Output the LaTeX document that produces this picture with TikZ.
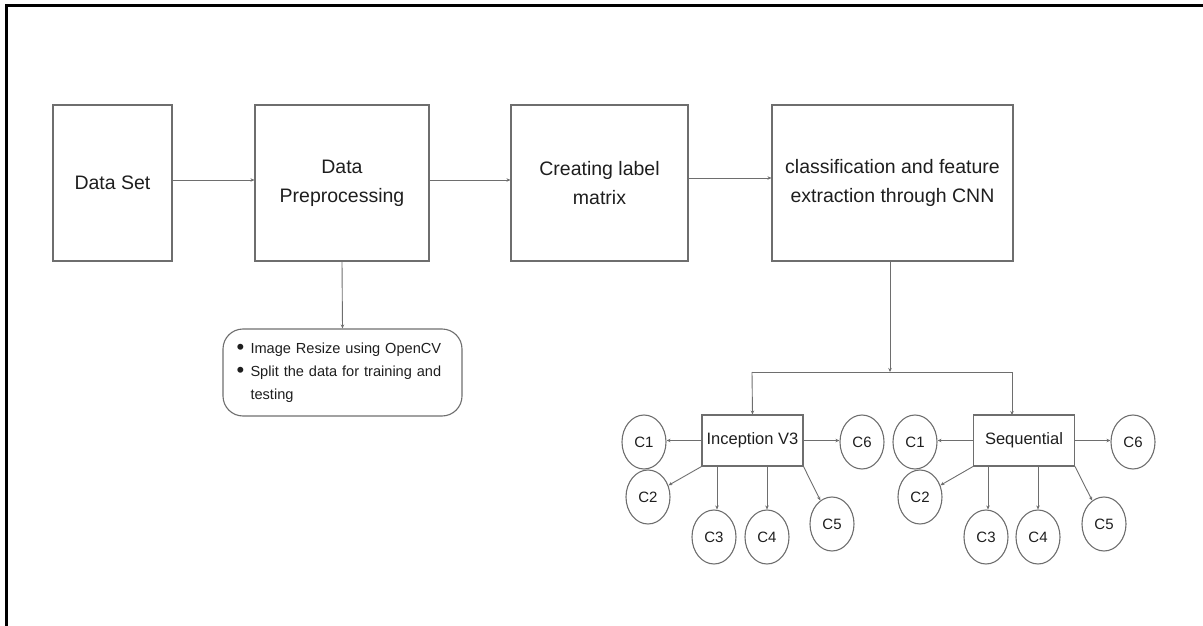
\documentclass[tikz,border=0pt]{standalone}
\usepackage{fontspec}
\setmainfont{Liberation Sans}
\usetikzlibrary{arrows.meta,shapes.geometric}
\definecolor{edge}{HTML}{6E6E6E}
\definecolor{ink}{HTML}{1E1E1E}
\newcommand{\notebullet}{\makebox[14pt][l]{\raisebox{-1.2pt}{\scalebox{1.5}{\textbullet}}}}

\begin{document}
\begin{tikzpicture}[x=1pt,y=-1pt,
  stepbox/.style={draw=edge, line width=1.1pt, align=center, text=ink,
    inner sep=0pt, minimum height=156pt,
    font=\fontsize{19.5}{29}\selectfont},
  modelbox/.style={draw=edge, line width=1.1pt, text=ink, inner sep=0pt,
    minimum width=101pt, minimum height=51pt,
    font=\fontsize{16.5}{20}\selectfont},
  cls/.style={draw=edge, line width=1.1pt, ellipse, text=ink, inner sep=0pt,
    minimum width=44pt, minimum height=54pt,
    font=\fontsize{15}{17}\selectfont},
  notebox/.style={draw=edge, line width=1.1pt, rounded corners=20pt, text=ink,
    align=left, text width=212pt, inner xsep=12pt, inner ysep=0pt,
    minimum width=239pt, minimum height=87pt,
    font=\fontsize{14.6}{23}\selectfont},
  conn/.style={draw=edge, line width=0.9pt,
    -{Stealth[length=4pt,width=3.5pt]}},
  plain/.style={draw=edge, line width=0.9pt}]

\useasboundingbox (0,0) rectangle (1203,626);

% page frame (top and left edges)
\draw[line width=3pt, black] (6,626) -- (6,6) -- (1203,6);

% main pipeline
\node[stepbox, minimum width=119pt] (ds)  at (112.5,183) {Data Set};
\node[stepbox, minimum width=174pt] (pre) at (342,183) {Data\\Preprocessing};
\node[stepbox, minimum width=177pt] (lab) at (599.5,183) {Creating label\\matrix};
\node[stepbox, minimum width=241pt] (cnn) at (892.5,183)
  {classification and feature\\extraction through CNN};

\draw[conn] ([yshift=3pt]ds.east)  -- ([yshift=3pt]pre.west);
\draw[conn] ([yshift=3pt]pre.east) -- ([yshift=3pt]lab.west);
\draw[conn] ([yshift=5pt]lab.east) -- ([yshift=5pt]cnn.west);

% preprocessing notes
\node[notebox] (note) at (342.5,372.5)
  {\notebullet Image Resize using OpenCV\\
   \notebullet Split the data for training and\\
   \makebox[14pt][l]{}testing};
\draw[conn] (pre.south) -- (note.north);

% split into the two models
\node[modelbox] (inc) at (752.5,440.5) {Inception V3};
\node[modelbox] (seq) at (1024,440.5) {Sequential};
\coordinate (jl) at (752,372);
\coordinate (jr) at (1012,372);
\coordinate (sq) at (1012,415);
\draw[conn] ([xshift=-2.5pt]cnn.south) -- ([xshift=-2.5pt]cnn.south |- jl);
\draw[plain] (jl) -- (jr);
\draw[conn] (jl) -- (inc.north);
\draw[conn] (jr) -- (sq);

% classes of Inception V3
\node[cls] (ic1) at (644,442) {C1};
\node[cls] (ic2) at (648,497) {C2};
\node[cls] (ic3) at (714,537) {C3};
\node[cls] (ic4) at (767,537) {C4};
\node[cls] (ic5) at (832,524) {C5};
\node[cls] (ic6) at (862,442) {C6};
\draw[conn] (inc.west) -- (inc.west -| ic1.east);
\draw[conn] (inc.south west) -- (ic2);
\draw[conn] ([xshift=3pt]ic3.north |- inc.south) -- ([xshift=3pt]ic3.north);
\draw[conn] (ic4.north |- inc.south) -- (ic4.north);
\draw[conn] (inc.south east) -- (ic5);
\draw[conn] (inc.east) -- (inc.east -| ic6.west);

% classes of Sequential
\node[cls] (sc1) at (915,442) {C1};
\node[cls] (sc2) at (920,497) {C2};
\node[cls] (sc3) at (986,537) {C3};
\node[cls] (sc4) at (1038,537) {C4};
\node[cls] (sc5) at (1104,524) {C5};
\node[cls] (sc6) at (1133,442) {C6};
\draw[conn] (seq.west) -- (seq.west -| sc1.east);
\draw[conn] (seq.south west) -- (sc2);
\draw[conn] ([xshift=2pt]sc3.north |- seq.south) -- ([xshift=2pt]sc3.north);
\draw[conn] (sc4.north |- seq.south) -- (sc4.north);
\draw[conn] (seq.south east) -- (sc5);
\draw[conn] (seq.east) -- (seq.east -| sc6.west);

\end{tikzpicture}
\end{document}
